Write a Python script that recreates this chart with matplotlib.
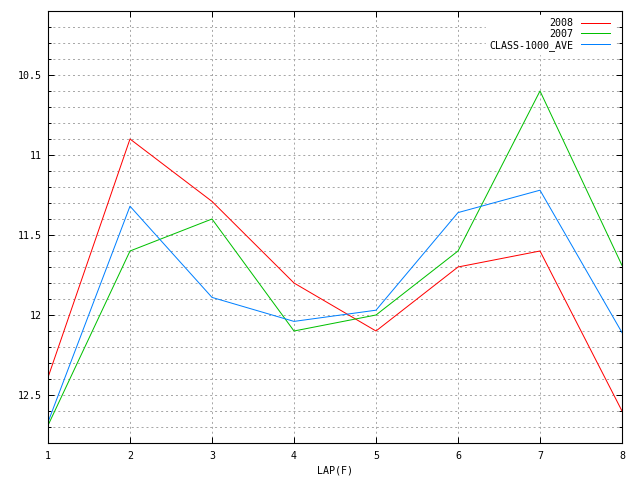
import matplotlib
matplotlib.use('Agg')
import matplotlib.pyplot as plt
from matplotlib.ticker import MultipleLocator, FormatStrFormatter

# Lap times per furlong
laps = [1, 2, 3, 4, 5, 6, 7, 8]
times_2008 = [12.39, 10.9, 11.29, 11.8, 12.1, 11.7, 11.6, 12.6]
times_2007 = [12.69, 11.6, 11.4, 12.1, 12.0, 11.6, 10.6, 11.69]
times_class_ave = [12.67, 11.32, 11.89, 12.04, 11.97, 11.36, 11.22, 12.11]

plt.rcParams['font.family'] = ['DejaVu Sans Mono', 'DejaVu Sans']
plt.rcParams['font.size'] = 7.2

fig = plt.figure(figsize=(6.4, 4.8), dpi=100)
ax = fig.add_axes([48 / 640, 1 - 443 / 480, 574 / 640, 432 / 480])

lw = 0.72
ax.plot(laps, times_2008, color='#ff0000', lw=lw, label='2008')
ax.plot(laps, times_2007, color='#00c000', lw=lw, label='2007')
ax.plot(laps, times_class_ave, color='#0080ff', lw=lw, label='CLASS-1000_AVE')

ax.set_xlim(1, 8)
ax.set_ylim(12.8, 10.1)
ax.xaxis.set_major_locator(MultipleLocator(1))
ax.yaxis.set_major_locator(MultipleLocator(0.5))
ax.yaxis.set_minor_locator(MultipleLocator(0.1))
ax.yaxis.set_major_formatter(FormatStrFormatter('%g'))

# gnuplot-like dotted grid on every 0.1 step
ax.grid(True, which='both', color='#a8a8a8', linestyle=(0, (2, 2.9)), linewidth=0.72)
ax.set_axisbelow(True)

ax.tick_params(which='both', direction='in', top=True, right=True, width=0.72)
ax.tick_params(which='major', length=4.3)
ax.tick_params(which='minor', length=2.2)
ax.tick_params(axis='y', which='both', pad=4.3)
ax.tick_params(axis='x', which='both', pad=6)
for s in ax.spines.values():
    s.set_linewidth(0.8)

ax.set_xlabel('LAP(F)', labelpad=3)

leg = ax.legend(loc='upper right', bbox_to_anchor=(1 - 9 / 574, 1 - 4 / 432),
                frameon=True, markerfirst=False,
                handlelength=2.9, handletextpad=0.8, labelspacing=0.08,
                borderpad=0.3, borderaxespad=0, fontsize=7.2)
leg.get_frame().set_facecolor('white')
leg.get_frame().set_edgecolor('white')
leg.get_frame().set_alpha(1)
for t in leg.get_texts():
    t.set_ha('right')
leg._legend_box.align = 'right'

fig.savefig('out.png', dpi=100)
